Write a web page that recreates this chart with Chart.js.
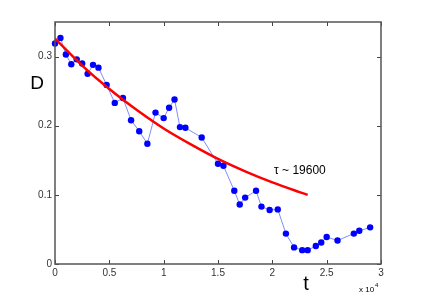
<!DOCTYPE html>
<html>
<head>
<meta charset="utf-8">
<script src="https://cdn.jsdelivr.net/npm/chart.js@4/dist/chart.umd.min.js"></script>
<style>
html,body{margin:0;padding:0;background:#fff;}
#wrap{width:421px;height:299px;}
</style>
</head>
<body>
<div id="wrap"><canvas id="c" width="421" height="299"></canvas></div>
<script>
// measured data (t, D)
const tValues = [0,500,1000,1500,2000,2500,3000,3500,4000,4750,5500,6250,7000,7750,8500,9250,10000,10500,11000,11500,12000,13500,15000,15500,16500,17000,17500,18500,19000,19750,20500,21250,22000,22750,23250,24000,24500,25000,26000,27500,28000,29000];
const dValues = [0.319,0.327,0.303,0.289,0.296,0.290,0.275,0.288,0.284,0.259,0.233,0.240,0.208,0.192,0.174,0.219,0.211,0.226,0.238,0.198,0.197,0.183,0.145,0.142,0.106,0.086,0.096,0.106,0.083,0.078,0.079,0.044,0.024,0.020,0.020,0.026,0.031,0.039,0.034,0.044,0.048,0.053];
// fitted curve
const fitT = [0,2500,5000,7500,10000,12500,15000,17500,20000,22500,23250];
const fitD = [0.326,0.287,0.253,0.223,0.196,0.173,0.152,0.134,0.118,0.104,0.100];
const xTicks = [0,5000,10000,15000,20000,25000,30000];
const yTicks = [0,0.1,0.2,0.3];
const fitLabel = 'τ ~ 19600';
const yTitle = 'D';
const xTitle = 't';

const FONT = 'Liberation Sans, Arial, Helvetica, sans-serif';
const AX = '#444';

const framePlugin = {
  id: 'frame',
  afterDraw(chart) {
    const ctx = chart.ctx;
    const a = chart.chartArea;
    const xs = chart.scales.x, ys = chart.scales.y;
    ctx.save();
    ctx.strokeStyle = AX;
    ctx.lineWidth = 1;
    const tl = 4;
    ctx.beginPath();
    xTicks.forEach(v => {
      const px = Math.round(xs.getPixelForValue(v)) + 0.5;
      ctx.moveTo(px, a.bottom); ctx.lineTo(px, a.bottom - tl);
      ctx.moveTo(px, a.top); ctx.lineTo(px, a.top + tl);
    });
    yTicks.forEach(v => {
      const py = Math.round(ys.getPixelForValue(v)) + 0.5;
      ctx.moveTo(a.left, py); ctx.lineTo(a.left + tl, py);
      ctx.moveTo(a.right, py); ctx.lineTo(a.right - tl, py);
    });
    ctx.stroke();
    ctx.lineWidth = 1.5;
    ctx.strokeStyle = '#555';
    ctx.strokeRect(a.left, a.top, a.right - a.left, a.bottom - a.top);
    // texts
    ctx.fillStyle = '#000';
    ctx.textBaseline = 'middle';
    ctx.textAlign = 'center';
    ctx.font = '19px ' + FONT;
    ctx.fillText(yTitle, 37, 84);
    ctx.font = '20px ' + FONT;
    ctx.fillText(xTitle, 306, 284);
    ctx.font = '12px ' + FONT;
    ctx.textAlign = 'left';
    ctx.fillText(fitLabel, 274, 171);
    ctx.font = '8px ' + FONT;
    ctx.fillText('x 10', 359, 290);
    ctx.font = '6px ' + FONT;
    ctx.fillText('4', 375, 285);
    ctx.restore();
  }
};

new Chart(document.getElementById('c'), {
  type: 'scatter',
  data: {
    datasets: [
      {
        data: fitT.map((t, i) => ({x: t, y: fitD[i]})),
        showLine: true,
        borderColor: '#ff0000',
        borderWidth: 2.5,
        pointRadius: 0,
        cubicInterpolationMode: 'monotone',
        fill: false
      },
      {
        data: tValues.map((t, i) => ({x: t, y: dValues[i]})),
        showLine: true,
        borderColor: '#7f8cff',
        borderWidth: 1,
        pointRadius: 3.2,
        pointBackgroundColor: '#0000ff',
        pointBorderColor: '#0000ff',
        pointBorderWidth: 0,
        clip: false,
        fill: false
      }
    ]
  },
  options: {
    responsive: false,
    animation: false,
    devicePixelRatio: 1,
    layout: {padding: {left: 0, right: 40, top: 22, bottom: 0}},
    plugins: {legend: {display: false}, tooltip: {enabled: false}},
    scales: {
      x: {
        type: 'linear', min: 0, max: 30000,
        afterFit(s) { s.height = 35; },
        afterBuildTicks(s) { s.ticks = xTicks.map(v => ({value: v})); },
        grid: {display: false, drawTicks: false},
        border: {display: false},
        ticks: {
          padding: 3,
          color: '#333',
          font: {family: FONT, size: 10},
          callback: v => String(v / 10000)
        }
      },
      y: {
        type: 'linear', min: 0, max: 0.35,
        afterFit(s) { s.width = 55; },
        afterBuildTicks(s) { s.ticks = yTicks.map(v => ({value: v})); },
        grid: {display: false, drawTicks: false},
        border: {display: false},
        ticks: {
          padding: 3,
          color: '#333',
          font: {family: FONT, size: 10},
          callback: v => v === 0 ? '0' : v.toFixed(1)
        }
      }
    }
  },
  plugins: [framePlugin]
});
</script>
</body>
</html>
